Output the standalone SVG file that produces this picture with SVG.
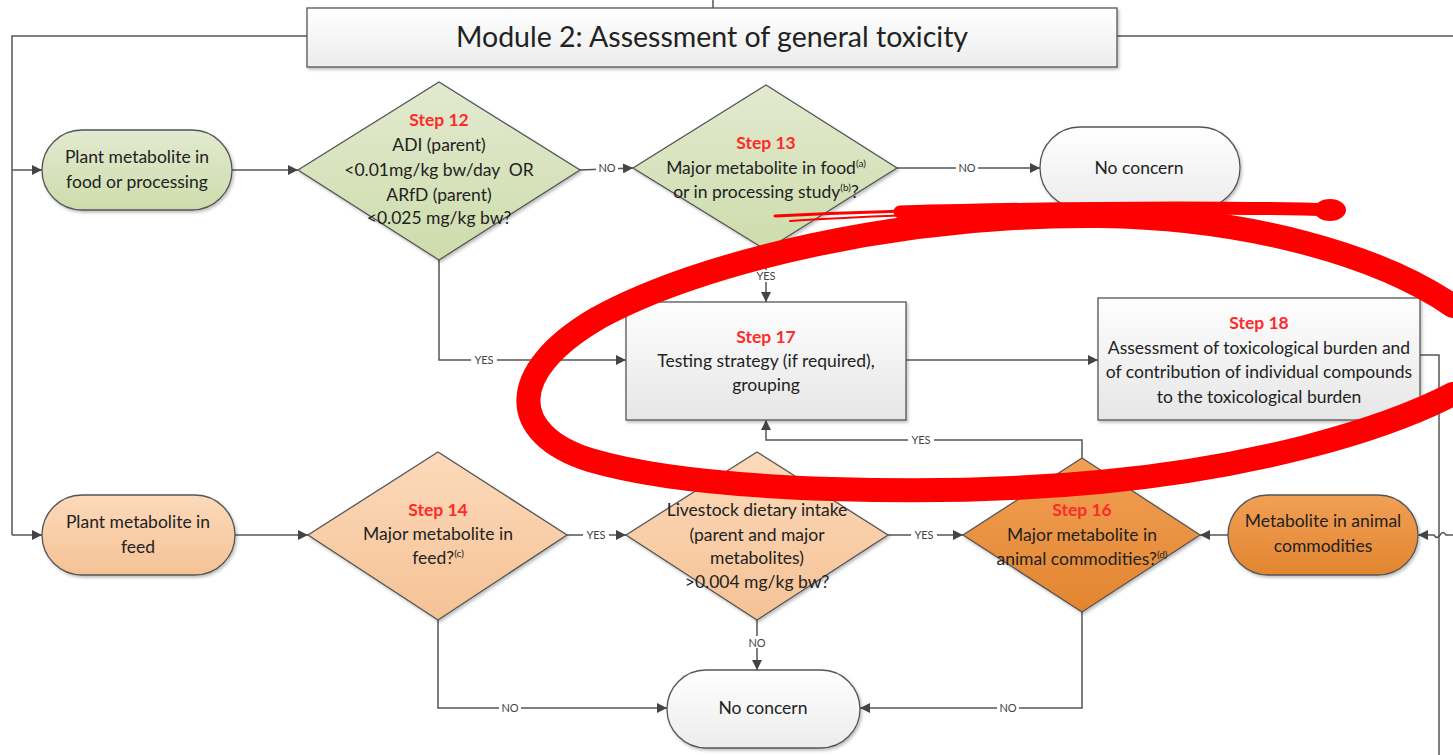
<svg xmlns="http://www.w3.org/2000/svg" width="1453" height="755" viewBox="0 0 1453 755">
<defs>
<linearGradient id="gGreen" x1="0" y1="0" x2="0" y2="1"><stop offset="0" stop-color="#e2ead0"/><stop offset="1" stop-color="#cedcab"/></linearGradient>
<linearGradient id="gLight" x1="0" y1="0" x2="0" y2="1"><stop offset="0" stop-color="#fcdabb"/><stop offset="1" stop-color="#f5c295"/></linearGradient>
<linearGradient id="gDark" x1="0" y1="0" x2="0" y2="1"><stop offset="0" stop-color="#f1a056"/><stop offset="1" stop-color="#e2852f"/></linearGradient>
<linearGradient id="gGray" x1="0" y1="0" x2="0" y2="1"><stop offset="0" stop-color="#fefefe"/><stop offset="1" stop-color="#e6e6e6"/></linearGradient>
<linearGradient id="gWhite" x1="0" y1="0" x2="0" y2="1"><stop offset="0" stop-color="#ffffff"/><stop offset="1" stop-color="#ececec"/></linearGradient>
<filter id="sh" x="-10%" y="-10%" width="120%" height="130%"><feDropShadow dx="1.5" dy="2" stdDeviation="1.5" flood-color="#000" flood-opacity="0.25"/></filter>
<marker id="arr" viewBox="0 0 10 10" refX="10" refY="5" markerWidth="10" markerHeight="10" markerUnits="userSpaceOnUse" orient="auto"><path d="M0,0 L10,5 L0,10 z" fill="#444"/></marker>
<style>
.t{font-family:Lato,"Liberation Sans",sans-serif;font-size:17.5px;fill:#222;text-anchor:middle}
.s{font-family:Lato,"Liberation Sans",sans-serif;font-size:17.5px;font-weight:bold;fill:#ff2a2a;text-anchor:middle}
.sup{font-size:10px}
.lb{font-family:Lato,"Liberation Sans",sans-serif;font-size:11px;fill:#444;text-anchor:middle}
.ln{fill:none;stroke:#555;stroke-width:1.5}
.la{fill:none;stroke:#555;stroke-width:1.5;marker-end:url(#arr)}
.bx{stroke:#555;stroke-width:1.3;filter:url(#sh)}
.red{fill:none;stroke:#ff0000;stroke-linecap:round;stroke-linejoin:round}
</style>
</defs>
<rect width="1453" height="755" fill="#fff"/>

<g id="connectors">
<path class="ln" d="M713,0 L713,8"/>
<path class="ln" d="M307,36 L12,36 L12,535"/>
<path class="la" d="M12,170 L42,170"/>
<path class="la" d="M12,535 L42,535"/>
<path class="ln" d="M1117,36 L1453,36"/>
<path class="la" d="M232,170 L298,170"/>
<path class="la" d="M580,170 L633,168"/>
<path class="la" d="M897,168 L1040,168"/>
<path class="la" d="M766,250 L766,302"/>
<path class="la" d="M439,260 L439,360 L626,360"/>
<path class="la" d="M906,360 L1098,360"/>
<path class="ln" d="M1420,355 L1439,355 L1439,755"/>
<path class="la" d="M235,535 L308,535"/>
<path class="la" d="M567,535 L626,535"/>
<path class="la" d="M888,535 L963,535"/>
<path class="la" d="M1082,458 L1082,440 L766,440 L766,420"/>
<path class="la" d="M1228,535 L1200,535"/>
<path class="la" d="M1453,535 L1446,535 Q1443,530 1440,535 Q1437,540 1434,535 L1418,535"/>
<path class="la" d="M757,620 L757,670"/>
<path class="la" d="M438,620 L438,708 L667,708"/>
<path class="la" d="M1082,612 L1082,708 L860,708"/>
<g id="labels">
<rect x="596" y="162" width="22" height="12" fill="#fff"/><text class="lb" x="607" y="172">NO</text>
<rect x="956" y="161" width="22" height="12" fill="#fff"/><text class="lb" x="967" y="172">NO</text>
<rect x="754" y="270" width="24" height="12" fill="#fff"/><text class="lb" x="766" y="280">YES</text>
<rect x="471" y="353" width="26" height="12" fill="#fff"/><text class="lb" x="484" y="364">YES</text>
<rect x="908" y="433" width="26" height="12" fill="#fff"/><text class="lb" x="921" y="444">YES</text>
<rect x="583" y="528" width="26" height="12" fill="#fff"/><text class="lb" x="596" y="539">YES</text>
<rect x="911" y="528" width="26" height="12" fill="#fff"/><text class="lb" x="924" y="539">YES</text>
<rect x="746" y="636" width="22" height="12" fill="#fff"/><text class="lb" x="757" y="647">NO</text>
<rect x="499" y="701" width="22" height="12" fill="#fff"/><text class="lb" x="510" y="712">NO</text>
<rect x="997" y="701" width="22" height="12" fill="#fff"/><text class="lb" x="1008" y="712">NO</text>
</g>
</g>

<g id="title">
<rect class="bx" x="307" y="8" width="810" height="59" fill="url(#gWhite)"/>
<text class="t" x="712" y="47" style="font-size:28.5px">Module 2: Assessment of general toxicity</text>
</g>

<g id="plant-food">
<rect class="bx" x="42" y="130" width="190" height="80" rx="40" fill="url(#gGreen)"/>
<text class="t" x="137" y="163">Plant metabolite in</text>
<text class="t" x="137" y="188">food or processing</text>
</g>

<g id="step12">
<polygon class="bx" points="439,82 580,170 439,260 298,170" fill="url(#gGreen)"/>
<text class="s" x="439" y="126">Step 12</text>
<text class="t" x="439" y="151">ADI (parent)</text>
<text class="t" x="439" y="176">&lt;0.01mg/kg bw/day&#160; OR</text>
<text class="t" x="439" y="201">ARfD (parent)</text>
<text class="t" x="439" y="224">&lt;0.025 mg/kg bw?</text>
</g>

<g id="step13">
<polygon class="bx" points="766,85 897,168 766,250 633,168" fill="url(#gGreen)"/>
<text class="s" x="766" y="149">Step 13</text>
<text class="t" x="766" y="174">Major metabolite in food<tspan class="sup" dy="-7">(a)</tspan></text>
<text class="t" x="766" y="198">or in processing study<tspan class="sup" dy="-7">(b)</tspan><tspan dy="7">?</tspan></text>
</g>

<g id="noconcern-top">
<rect class="bx" x="1040" y="127" width="200" height="81" rx="40" fill="url(#gWhite)"/>
<text class="t" x="1139" y="174">No concern</text>
</g>

<g id="step17">
<rect class="bx" x="626" y="302" width="280" height="118" fill="url(#gGray)"/>
<text class="s" x="766" y="343">Step 17</text>
<text class="t" x="766" y="367">Testing strategy (if required),</text>
<text class="t" x="766" y="391">grouping</text>
</g>

<g id="step18">
<rect class="bx" x="1098" y="298" width="322" height="122" fill="url(#gGray)"/>
<text class="s" x="1259" y="329">Step 18</text>
<text class="t" x="1259" y="354">Assessment of toxicological burden and</text>
<text class="t" x="1259" y="378">of contribution of individual compounds</text>
<text class="t" x="1259" y="403">to the toxicological burden</text>
</g>

<g id="plant-feed">
<rect class="bx" x="42" y="495" width="193" height="80" rx="40" fill="url(#gLight)"/>
<text class="t" x="138" y="528">Plant metabolite in</text>
<text class="t" x="138" y="553">feed</text>
</g>

<g id="step14">
<polygon class="bx" points="438,452 567,535 438,620 308,535" fill="url(#gLight)"/>
<text class="s" x="438" y="516">Step 14</text>
<text class="t" x="438" y="540">Major metabolite in</text>
<text class="t" x="438" y="564">feed?<tspan class="sup" dy="-7">(c)</tspan></text>
</g>

<g id="step15">
<polygon class="bx" points="757,452 888,535 757,620 626,535" fill="url(#gLight)"/>
<text class="s" x="757" y="493">Step 15</text>
<text class="t" x="757" y="516">Livestock dietary intake</text>
<text class="t" x="757" y="541">(parent and major</text>
<text class="t" x="757" y="564">metabolites)</text>
<text class="t" x="757" y="588">&gt;0.004 mg/kg bw?</text>
</g>

<g id="step16">
<polygon class="bx" points="1082,458 1200,535 1082,612 963,535" fill="url(#gDark)"/>
<text class="s" x="1082" y="516">Step 16</text>
<text class="t" x="1082" y="541">Major metabolite in</text>
<text class="t" x="1082" y="565">animal commodities?<tspan class="sup" dy="-7">(d)</tspan></text>
</g>

<g id="animal">
<rect class="bx" x="1228" y="495" width="190" height="80" rx="40" fill="url(#gDark)"/>
<text class="t" x="1323" y="527">Metabolite in animal</text>
<text class="t" x="1323" y="552">commodities</text>
</g>

<g id="noconcern-bottom">
<rect class="bx" x="667" y="670" width="193" height="78" rx="39" fill="url(#gWhite)"/>
<text class="t" x="763" y="714">No concern</text>
</g>

<g id="annotation">
<path class="red" stroke-width="24" d="M1453,306 C1380,256 1250,218 1100,216 C900,214 700,262 598,318 C505,372 508,434 590,460 C705,494 950,496 1100,482 C1250,468 1380,432 1453,394"/>
<path class="red" stroke-width="3" d="M775,216 C900,210 1000,208 1100,208"/>
<path class="red" stroke-width="2" d="M790,221 C900,214 1000,212 1100,212"/>
<path class="red" stroke-width="13" d="M900,212 C1050,208 1200,206 1335,210"/>
<ellipse cx="1330" cy="210" rx="16" ry="11" fill="#ff0000"/>
</g>
</svg>
